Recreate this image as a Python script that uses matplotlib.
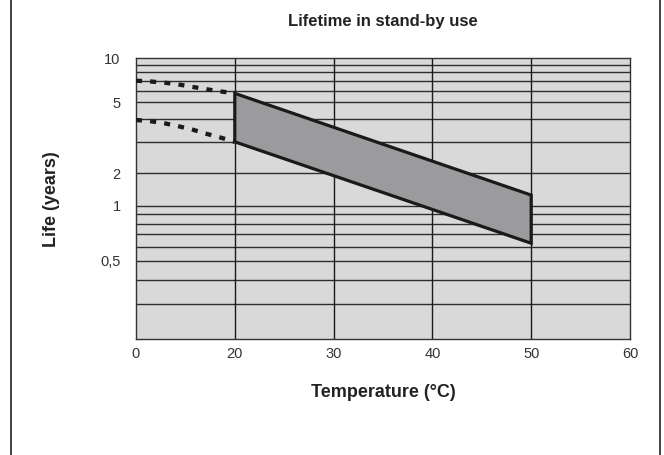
import numpy as np
import matplotlib
matplotlib.use('Agg')
import matplotlib.pyplot as plt
from matplotlib.lines import Line2D

plt.rcParams['font.family'] = ['Liberation Sans', 'DejaVu Sans']

# region data
# band between 20 and 50 degrees (life in years)
band_temp = [20, 50]
band_upper = [5.74, 1.26]
band_lower = [3.00, 0.625]

# dotted extrapolation below 20 degrees
dash_temp = [0, 2.7, 5.9, 8.5, 11.3, 14, 16.6, 20]
dash_upper = [7.01, 6.94, 6.79, 6.62, 6.37, 6.15, 5.95, 5.74]
dash_lower = [3.97, 3.92, 3.80, 3.67, 3.52, 3.34, 3.20, 3.00]

x_ticks = [0, 20, 30, 40, 50, 60]
y_ticks = [0.5, 1, 2, 5, 10]
y_tick_labels = ['0,5', '1', '2', '5', '10']
y_grid = [0.3, 0.4, 0.5, 0.6, 0.7, 0.8, 0.9, 1, 2, 3, 4, 5, 6, 7, 8, 9]
# endregion

# region scales
# the x axis squeezes 0-20 into one grid cell
x_nodes = [0, 20, 60]
x_pos = [0, 10, 50]


def x_fwd(x):
    return np.interp(x, x_nodes, x_pos)


def x_inv(p):
    return np.interp(p, x_pos, x_nodes)


# the y axis is a hand drawn log scale, not a clean one
y_nodes = np.log10([0.2, 0.5, 1, 2, 5, 10])
y_pos = [0.0, 0.278, 0.474, 0.590, 0.844, 1.0]


def y_fwd(v):
    v = np.clip(v, 1e-6, None)
    return np.interp(np.log10(v), y_nodes, y_pos)


def y_inv(p):
    return 10 ** np.interp(p, y_pos, y_nodes)
# endregion

fig = plt.figure(figsize=(6.64, 4.55), dpi=100)
ax = fig.add_axes([0.2048, 0.2549, 0.744, 0.617])
ax.set_xscale('function', functions=(x_fwd, x_inv))
ax.set_yscale('function', functions=(y_fwd, y_inv))
ax.set_xlim(0, 60)
ax.set_ylim(0.2, 10)
ax.set_facecolor('#d9d9d9')

for v in y_grid:
    ax.axhline(v, color='#2e2e2e', lw=1.0, zorder=1)
for t in [20, 30, 40, 50]:
    ax.axvline(t, color='#1a1a1a', lw=1.0, zorder=1)

# band
poly_x = band_temp + band_temp[::-1]
poly_y = band_upper + band_lower[::-1]
ax.fill(poly_x, poly_y, facecolor='#9b9b9d', edgecolor='#1a1a1a', lw=2.3,
        joinstyle='miter', zorder=3)

# dotted extensions
for ys in (dash_upper, dash_lower):
    ln, = ax.plot(dash_temp, ys, color='#1a1a1a', lw=3.1, zorder=4,
                  solid_capstyle='butt', dash_capstyle='butt')
    ln.set_dashes((1.4, 1.9))

ax.set_xticks(x_ticks)
ax.set_xticklabels([str(t) for t in x_ticks])
ax.set_yticks(y_ticks)
ax.set_yticklabels(y_tick_labels)
ax.minorticks_off()
ax.tick_params(length=0, labelsize=10.5, colors='#333333')
ax.tick_params(axis='x', pad=6)
ax.tick_params(axis='y', pad=11)

for s in ax.spines.values():
    s.set_color('#333333')
    s.set_linewidth(1.0)

ax.set_title('Lifetime in stand-by use', fontsize=12, fontweight='bold',
             color='#222222', pad=23)
ax.set_xlabel('Temperature (°C)', fontsize=13, fontweight='bold',
              color='#222222', labelpad=16)
ax.set_ylabel('Life (years)', fontsize=13, fontweight='bold',
              color='#222222', labelpad=29)

# side frame lines
fig.add_artist(Line2D([11 / 664, 11 / 664], [0, 1], color='#222222', lw=1.2))
fig.add_artist(Line2D([660 / 664, 660 / 664], [0, 1], color='#222222', lw=1.2))

fig.savefig('out.png', dpi=100)
